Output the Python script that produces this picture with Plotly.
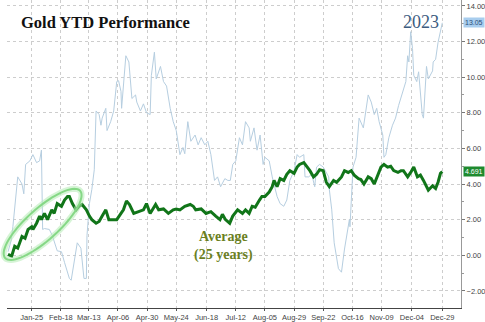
import numpy as np
import pandas as pd
import plotly.graph_objects as go

# ---------------- data ----------------
# day-of-year for the 2023 series
days_2023 = [5.5, 8, 9.5, 13, 13.5, 17, 18.5, 20, 23.5, 26, 29, 31.5, 33, 34, 35.5, 39.5, 42, 46,
             49.5, 52, 56, 57.5, 60, 62.5, 65.5, 68, 70, 70.5, 72.5, 74.5, 76.5, 78, 80.5, 82, 83,
             86, 87, 90, 92.5, 95, 96.5, 98.5, 99, 102.5, 105, 107.5, 110.5, 111.5, 114.5, 117,
             119.5, 122.5, 123.5, 126, 127.5, 131, 133.5, 136, 139, 141.5, 144, 147, 149.5, 151,
             153.5, 156, 159.5, 162, 164.5, 167.5, 170, 172.5, 175.5, 178, 180.5, 184, 186.5,
             188.5, 190.5, 193, 196, 198.5, 201, 204, 205, 208, 210.5, 213, 215.5, 217, 220.5,
             223, 227, 229.5, 232.5, 235, 237.5, 241, 243.5, 245.5, 249, 250, 253, 255.5, 258,
             259.5, 262, 265, 269.5, 270, 272, 274, 277.5, 280, 282.5, 284, 286.5, 287, 289.5,
             292, 294, 294.5, 298, 300.5, 302, 304.5, 307, 309, 311, 314, 315, 316.5, 319, 322,
             324.5, 327, 330.5, 333, 334.5, 335.5, 337, 338.5, 339.5, 342, 343.5, 346.5, 347.5,
             350, 351.5, 355, 355.5, 357.5, 359.5, 362, 363]
ytd_2023 = [0.2, 0.8, 1.6, 4.0, 4.4, 4.0, 3.45, 5.1, 5.3, 5.65, 5.2, 5.3, 5.9, 1.45, 1.5, 1.45, 1.1,
            0.25, 0.2, -0.4, -1.3, -1.4, -0.4, 0.7, 0.4, -1.3, -1.3, 1.1, 2.9, 3.7, 4.8, 8.1, 7.9,
            7.3, 7.7, 8.25, 7.0, 7.5, 8.1, 9.75, 9.8, 9.2, 8.25, 11.2, 10.85, 8.8, 9.0, 8.6, 8.1,
            8.5, 8.0, 7.9, 10.1, 11.4, 9.9, 10.6, 9.75, 9.5, 8.25, 7.5, 7.0, 5.65, 6.05, 5.7, 7.5,
            6.4, 6.75, 6.2, 6.6, 6.2, 6.4, 5.65, 4.2, 4.4, 3.85, 4.3, 4.2, 4.2, 5.1, 5.3, 6.6,
            6.2, 7.5, 7.15, 6.4, 7.15, 5.9, 6.75, 5.1, 5.5, 5.3, 4.4, 3.3, 2.9, 2.75, 3.1, 4.2,
            4.75, 5.65, 5.5, 5.65, 4.4, 4.4, 4.55, 3.85, 4.95, 5.1, 4.95, 4.4, 3.7, 2.55, 0.7,
            -0.75, -0.95, 0.35, 1.05, 2.0, 1.6, 4.95, 5.5, 7.5, 7.7, 7.15, 8.4, 9.0, 8.6, 7.9,
            8.25, 7.5, 6.75, 5.5, 5.65, 6.6, 7.3, 7.7, 8.4, 9.2, 9.75, 11.2, 10.85, 12.55, 11.6,
            10.1, 9.75, 10.3, 7.9, 7.7, 10.6, 9.9, 10.35, 10.85, 11.0, 11.95, 12.7, 13.05]

# day-of-year for the 25-year average series
days_avg = [5.5, 8.5, 11, 13.5, 17, 19.5, 22, 25, 26, 29, 31.5, 33, 35.5, 38, 41.5, 43.5, 46, 49.5,
            52, 54.5, 56, 58.5, 61.5, 64, 66.5, 70, 72.5, 74.5, 78, 80.5, 83, 86, 88.5, 92.5, 95,
            98.5, 100.5, 103, 105.5, 109, 113, 117, 119.5, 122.5, 127, 129.5, 133.5, 137.5, 141.5,
            144, 147, 151, 155.5, 158, 160, 164.5, 168.5, 172.5, 176.5, 180, 182, 184.5, 188,
            190.5, 194.5, 198.5, 201, 204, 206.5, 209, 212.5, 214.5, 217, 220.5, 223, 224.5, 227,
            229.5, 232.5, 235, 237.5, 241, 243.5, 245.5, 249, 251.5, 254, 257, 259.5, 262, 265,
            267.5, 270, 273.5, 276, 280, 282.5, 285.5, 288, 290.5, 294, 296, 298.5, 302, 304.5,
            307, 310, 312.5, 315, 318, 320.5, 323, 326.5, 329, 331, 334.5, 337, 339.5, 342.5,
            345, 347.5, 351, 351.5, 355, 357.5, 359.5, 361.5, 363]
ytd_avg = [0.05, -0.05, 0.5, 0.4, 1.05, 0.95, 1.45, 1.6, 1.45, 1.8, 2.2, 2.0, 2.35, 2.0, 2.55, 2.35,
           2.9, 2.75, 3.1, 3.3, 3.3, 2.9, 2.55, 2.75, 2.85, 2.55, 2.2, 2.0, 1.8, 1.9, 2.2, 2.55,
           2.0, 2.0, 2.0, 2.35, 2.55, 3.05, 2.85, 2.35, 2.45, 2.55, 2.9, 2.35, 2.85, 2.55, 2.6,
           2.35, 2.55, 2.6, 2.55, 2.75, 2.85, 2.75, 2.55, 2.6, 2.35, 2.45, 2.2, 2.0, 2.3, 2.0,
           1.8, 2.2, 2.55, 2.35, 2.55, 2.35, 2.75, 2.7, 3.1, 3.3, 3.3, 3.55, 3.85, 4.2, 3.85,
           4.3, 4.2, 4.55, 4.75, 4.6, 4.95, 5.1, 5.2, 5.0, 4.75, 4.4, 4.55, 4.8, 4.75, 4.1, 3.85,
           4.2, 4.1, 4.4, 4.75, 4.65, 4.75, 4.5, 4.3, 4.25, 4.0, 4.4, 4.3, 4.0, 4.5, 4.95, 5.1,
           4.95, 5.0, 4.75, 4.65, 4.75, 4.75, 4.4, 4.65, 4.95, 4.4, 4.5, 4.2, 3.75, 3.65, 3.9,
           3.75, 4.1, 4.6, 4.691]

tick_dates = ["2023-01-25", "2023-02-18", "2023-03-13", "2023-04-06", "2023-04-30", "2023-05-24",
              "2023-06-18", "2023-07-12", "2023-08-05", "2023-08-29", "2023-09-22", "2023-10-16",
              "2023-11-09", "2023-12-04", "2023-12-29"]
y_ticks = [-2, 0, 2, 4, 6, 8, 10, 12, 14]
last_2023 = 13.05
last_avg = 4.691

# ---------------- build ----------------
base = pd.Timestamp("2023-01-01")
def to_dates(days):
    return base + pd.to_timedelta(np.array(days) - 1, unit="D")

W, H = 485, 322
ML, MR, MT, MB = 7, 19, 0, 9
PW, PH = W - ML - MR, H - MT - MB

fig = go.Figure()
fig.add_trace(go.Scatter(x=to_dates(days_2023), y=ytd_2023, mode="lines",
                         line=dict(color="#b6cee0", width=1), showlegend=False))
fig.add_trace(go.Scatter(x=to_dates(days_avg), y=ytd_avg, mode="lines",
                         line=dict(color="#117519", width=3), showlegend=False))

# highlight ellipse (pixel geometry -> paper coords)
cx, cy, a, b, ang = 43, 228, 51, 16, np.deg2rad(42)
t = np.linspace(0, 2 * np.pi, 73)
px = cx + a * np.cos(t) * np.cos(ang) + b * np.sin(t) * np.sin(ang)
py = cy - a * np.cos(t) * np.sin(ang) + b * np.sin(t) * np.cos(ang)
ux = (px - ML) / PW
uy = 1 - (py - MT) / PH
path = "M " + " L ".join(f"{x:.4f},{y:.4f}" for x, y in zip(ux, uy)) + " Z"
fig.add_shape(type="path", path=path, xref="paper", yref="paper",
              line=dict(color="rgba(180,235,180,0.55)", width=6), layer="above")
fig.add_shape(type="path", path=path, xref="paper", yref="paper",
              line=dict(color="#86d886", width=2), layer="above")

grid = dict(showgrid=True, gridcolor="#cdcdcd", griddash="dot", gridwidth=1)
fig.update_xaxes(type="date",
                 range=[base + pd.Timedelta(days=3.66), base + pd.Timedelta(days=377.4)],
                 tickvals=pd.to_datetime(tick_dates), tickformat="%b-%d",
                 ticks="outside", ticklen=2, tickcolor="#555",
                 showline=True, linecolor="#444", linewidth=1,
                 tickfont=dict(family="Liberation Sans", size=7.5, color="#444"),
                 zeroline=False, **grid)
fig.update_yaxes(side="right", range=[-2.96, 14.33], tickvals=y_ticks, tickformat=".2f",
                 ticks="outside", ticklen=3, tickcolor="#777",
                 minor=dict(dtick=1, tick0=0, ticks="outside", ticklen=2, tickcolor="#999", showgrid=False),
                 showline=True, linecolor="#999", linewidth=1,
                 tickfont=dict(family="Liberation Sans", size=7.5, color="#444"),
                 zeroline=False, **grid)

anns = [
    dict(text="<b>Gold YTD Performance</b>", x=(19 - ML) / PW, y=1 - 23 / PH, xanchor="left",
         yanchor="middle", font=dict(family="Liberation Serif", size=16.5, color="#111")),
    dict(text="2023", x=(426 - ML) / PW, y=1 - 22 / PH, xanchor="center", yanchor="middle",
         font=dict(family="Liberation Serif", size=18, color="#3d5c80")),
    dict(text="<b>Average<br>(25 years)</b>", x=(226 - ML) / PW, y=1 - 250 / PH,
         xanchor="center", yanchor="middle", align="center",
         font=dict(family="Liberation Serif", size=14, color="#6b7f22")),
]
for a_ in anns:
    fig.add_annotation(xref="paper", yref="paper", showarrow=False, **a_)

fig.add_annotation(xref="paper", yref="y", x=(468 - ML) / PW, y=last_2023, text=f"{last_2023:.2f}",
                   showarrow=False, xanchor="left", yanchor="middle", bgcolor="#a8cdee",
                   borderpad=1, font=dict(family="Liberation Sans", size=7, color="#2d4f7a"))
fig.add_annotation(xref="paper", yref="y", x=(468 - ML) / PW, y=last_avg, text=f"{last_avg:.3f}",
                   showarrow=False, xanchor="left", yanchor="middle", bgcolor="#1e8a2e",
                   borderpad=1, font=dict(family="Liberation Sans", size=7, color="#ffffff"))

fig.update_layout(width=W, height=H, margin=dict(l=ML, r=MR, t=MT, b=MB),
                  paper_bgcolor="white", plot_bgcolor="white", showlegend=False)
fig.write_html("out.html")
